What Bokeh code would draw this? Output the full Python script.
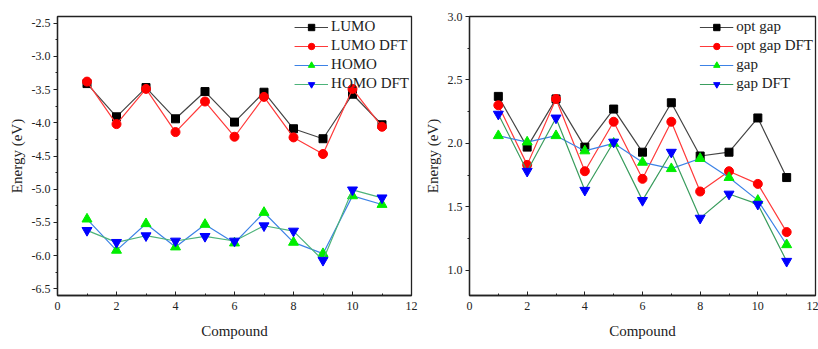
from bokeh.plotting import figure
from bokeh.layouts import row
from bokeh.models import Range1d, FixedTicker, Legend
from bokeh.embed import file_html
from bokeh.resources import INLINE

compound = [1, 2, 3, 4, 5, 6, 7, 8, 9, 10, 11]

lumo = [-3.41, -3.91, -3.47, -3.94, -3.53, -3.99, -3.54, -4.09, -4.24, -3.57, -4.03]
lumo_dft = [-3.38, -4.02, -3.49, -4.14, -3.68, -4.21, -3.61, -4.22, -4.47, -3.49, -4.06]
homo = [-5.45, -5.92, -5.52, -5.87, -5.53, -5.81, -5.35, -5.80, -5.97, -5.10, -5.23]
homo_dft = [-5.62, -5.80, -5.70, -5.78, -5.71, -5.78, -5.55, -5.63, -6.07, -5.01, -5.13]

opt_gap = [2.37, 1.97, 2.35, 1.97, 2.27, 1.93, 2.32, 1.90, 1.93, 2.20, 1.73]
opt_gap_dft = [2.30, 1.83, 2.35, 1.78, 2.17, 1.72, 2.17, 1.62, 1.78, 1.68, 1.30]
gap = [2.06, 2.01, 2.06, 1.94, 2.00, 1.85, 1.80, 1.88, 1.73, 1.55, 1.20]
gap_dft = [2.23, 1.78, 2.20, 1.63, 2.01, 1.55, 1.93, 1.41, 1.60, 1.52, 1.07]

x_ticks = [0, 2, 4, 6, 8, 10, 12]
left_y_ticks = [-6.5, -6.0, -5.5, -5.0, -4.5, -4.0, -3.5, -3.0, -2.5]
right_y_ticks = [1.0, 1.5, 2.0, 2.5, 3.0]

FONT = "Liberation Serif, DejaVu Serif"


def make_fig(width, border_left, border_right, y_range, y_ticks, y_fmt):
    p = figure(width=width, height=341, output_backend="svg", toolbar_location=None,
               x_range=Range1d(0, 12), y_range=Range1d(*y_range),
               min_border_left=border_left, min_border_right=border_right,
               min_border_top=16, min_border_bottom=39)
    p.grid.visible = False
    p.outline_line_color = "#222222"
    p.outline_line_width = 1.3
    p.background_fill_color = "white"
    p.border_fill_color = "white"
    p.xaxis.ticker = FixedTicker(ticks=x_ticks, minor_ticks=list(range(0, 13)))
    yminor = []
    for i in range(len(y_ticks) - 1):
        yminor.append((y_ticks[i] + y_ticks[i + 1]) / 2)
    p.yaxis.ticker = FixedTicker(ticks=y_ticks, minor_ticks=yminor)
    p.yaxis.major_label_overrides = {t: y_fmt.format(t) for t in y_ticks}
    for ax in p.xaxis + p.yaxis:
        ax.update(
            axis_line_color="#222222",
            axis_line_width=1.3,
            major_tick_line_color="#222222",
            minor_tick_line_color="#222222",
            major_label_text_font=FONT,
            major_label_text_font_size="12px",
            major_label_text_color="#222222",
            axis_label_text_font=FONT,
            axis_label_text_font_style="normal",
            axis_label_text_color="#222222",
        )
    p.xaxis.major_tick_in = 4
    p.xaxis.major_tick_out = 0
    p.xaxis.minor_tick_in = 2
    p.xaxis.minor_tick_out = 0
    p.xaxis.major_label_standoff = 6
    p.xaxis.axis_label = "Compound"
    p.xaxis.axis_label_text_font_size = "15px"
    p.xaxis.axis_label_standoff = 10
    p.yaxis.major_tick_in = 0
    p.yaxis.major_tick_out = 4
    p.yaxis.minor_tick_in = 0
    p.yaxis.minor_tick_out = 2
    p.yaxis.major_label_standoff = 3
    p.yaxis.axis_label = "Energy (eV)"
    p.yaxis.axis_label_text_font_size = "15px"
    p.yaxis.axis_label_standoff = 4
    return p


def add_series(p, ys, label, line_color, marker, fill, size):
    r1 = p.line(compound, ys, line_color=line_color, line_width=1.2)
    r2 = p.scatter(compound, ys, marker=marker, size=size, fill_color=fill, line_color=fill)
    return (label, [r1, r2])


def style_legend(p, items):
    leg = Legend(items=items, location="top_right")
    leg.border_line_alpha = 0
    leg.background_fill_alpha = 0
    leg.label_text_font = FONT
    leg.label_text_font_size = "15px"
    leg.label_text_color = "#222222"
    leg.glyph_width = 34
    leg.glyph_height = 16
    leg.label_height = 16
    leg.spacing = 2
    leg.padding = 2
    leg.margin = 0
    leg.label_standoff = 3
    p.add_layout(leg)


left = make_fig(421, 57, 10, (-6.6, -2.4), left_y_ticks, "{:.1f}")
items_l = [
    add_series(left, lumo, "LUMO", "#444444", "square", "black", 8),
    add_series(left, lumo_dft, "LUMO DFT", "#ff3a3a", "circle", "red", 9),
    add_series(left, homo, "HOMO", "#3c82e6", "triangle", "#00ee00", 10),
    add_series(left, homo_dft, "HOMO DFT", "#4cb37a", "inverted_triangle", "#0000ff", 10),
]
style_legend(left, items_l)

right = make_fig(397, 40, 3, (0.8, 3.0), right_y_ticks, "{:.1f}")
items_r = [
    add_series(right, opt_gap, "opt gap", "#444444", "square", "black", 8),
    add_series(right, opt_gap_dft, "opt gap DFT", "#ff3a3a", "circle", "red", 9),
    add_series(right, gap, "gap", "#3c82e6", "triangle", "#00ee00", 10),
    add_series(right, gap_dft, "gap DFT", "#3a9d5e", "inverted_triangle", "#0000ff", 10),
]
style_legend(right, items_r)

layout = row(left, right, spacing=0)
open("out.html", "w").write(file_html(layout, INLINE))
